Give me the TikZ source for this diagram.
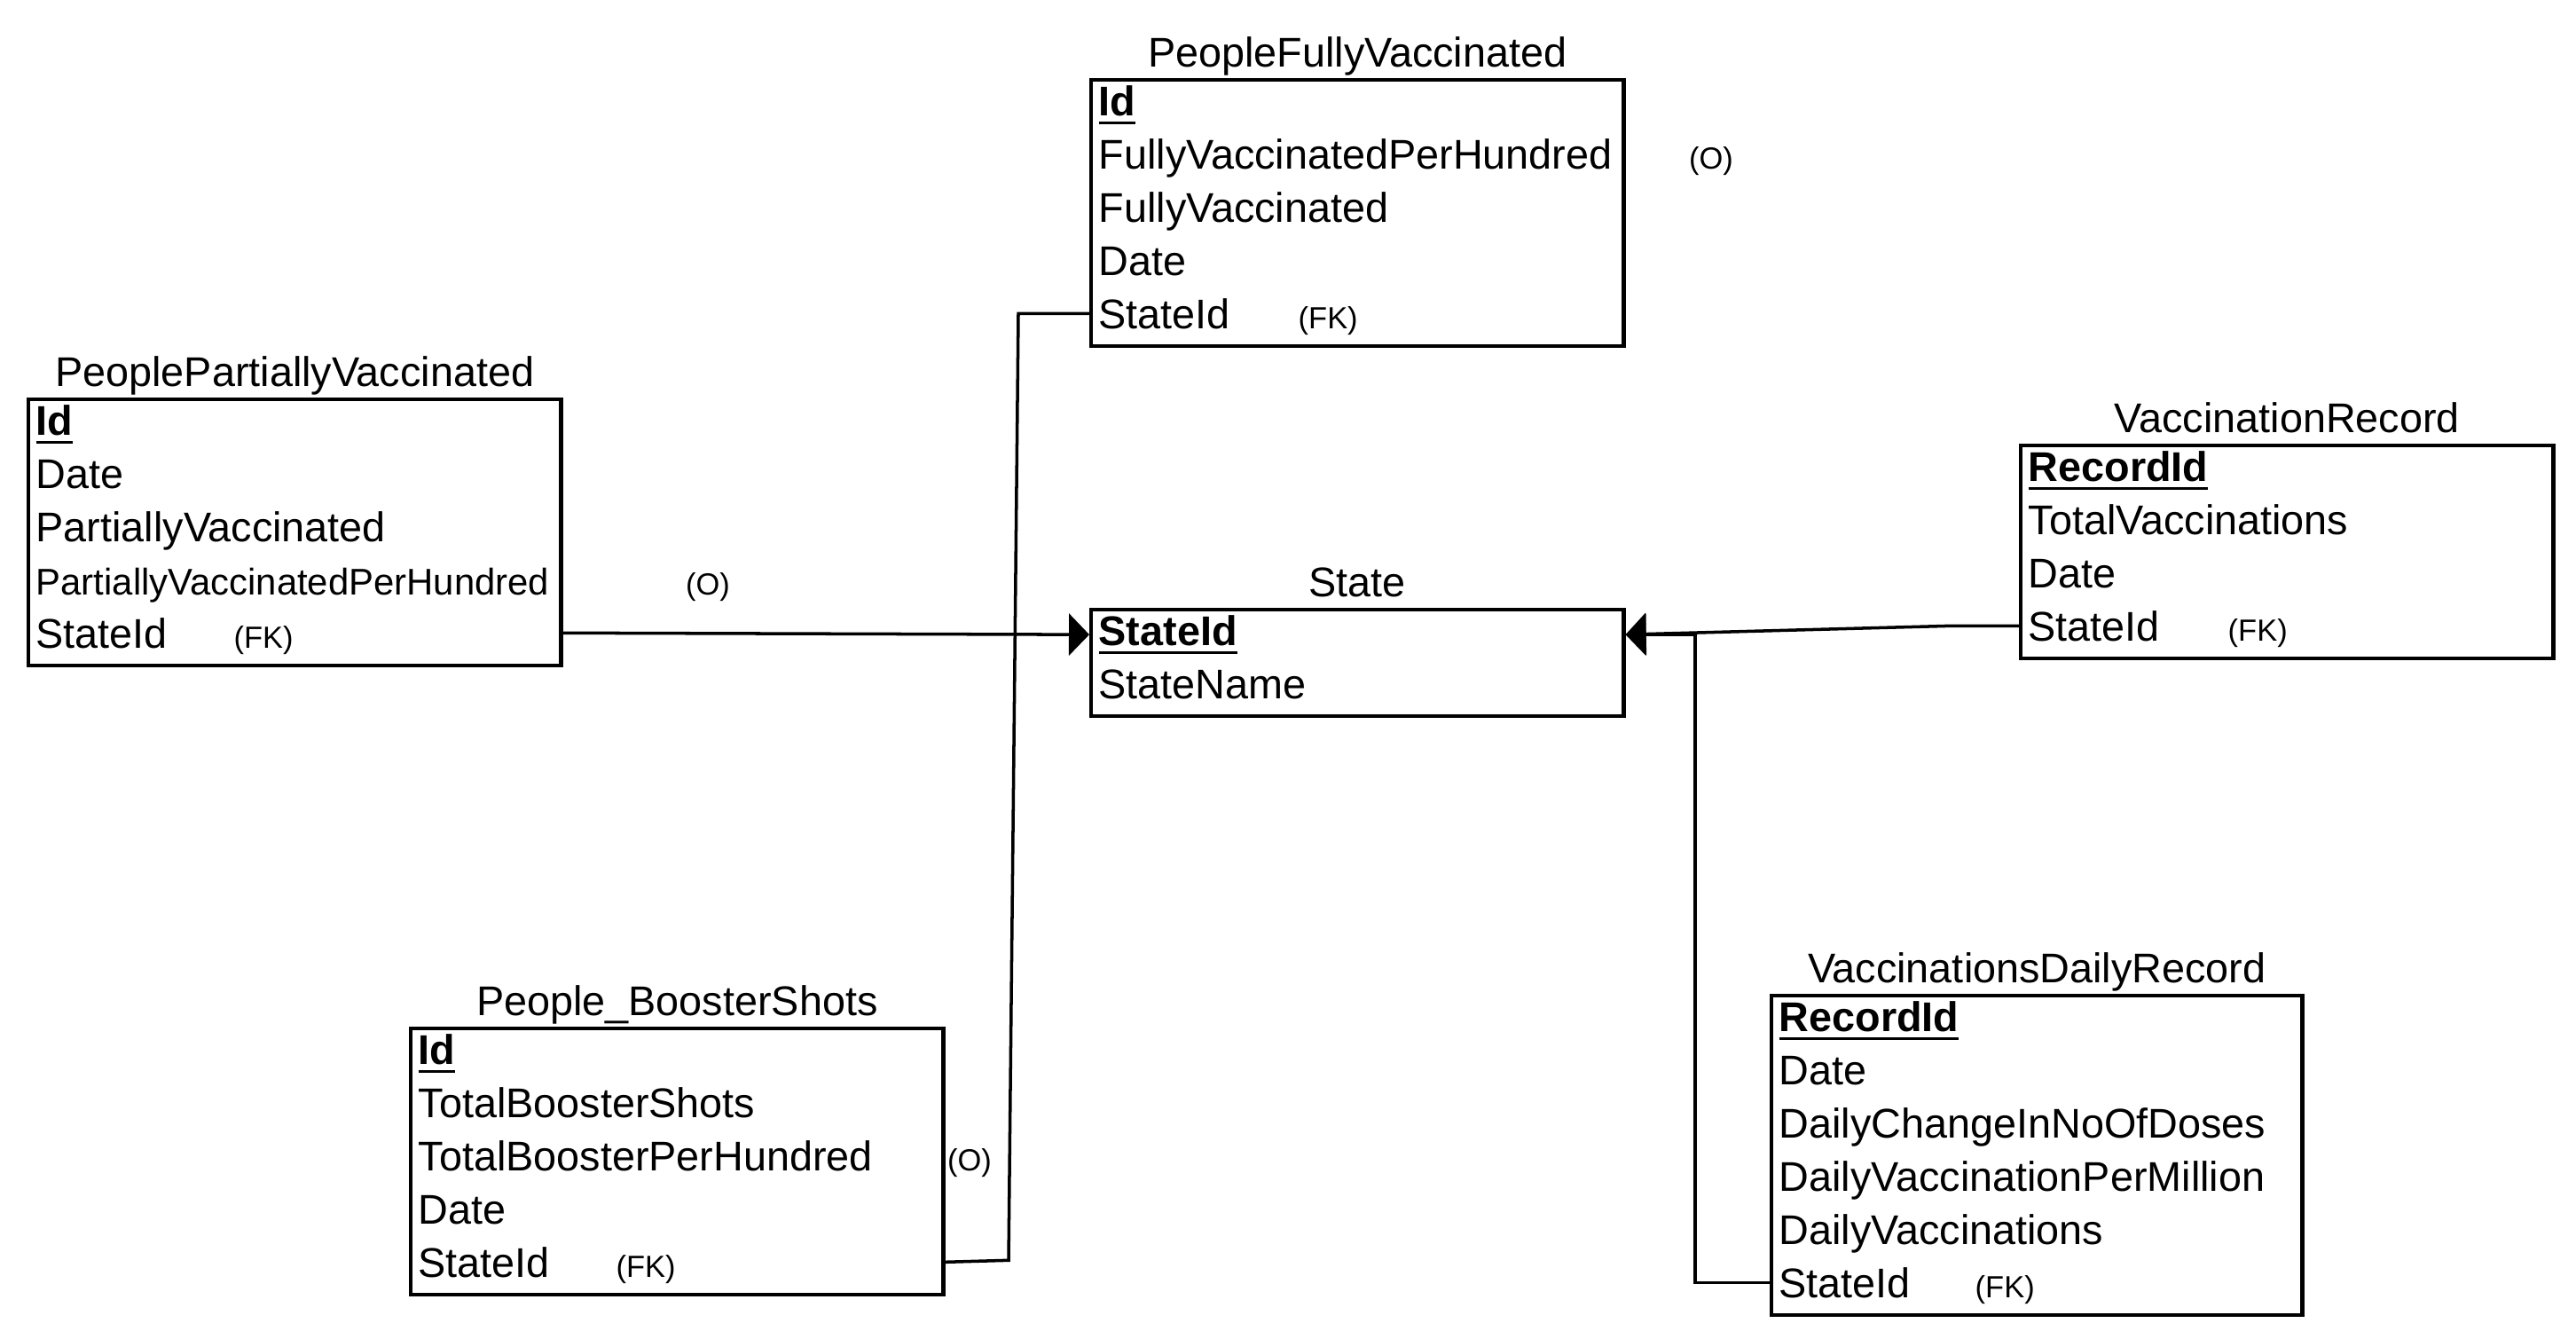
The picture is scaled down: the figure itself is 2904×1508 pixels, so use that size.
\documentclass[tikz,border=0pt]{standalone}
\usepackage{fontspec}
\setmainfont{Liberation Sans}
\usetikzlibrary{arrows.meta,positioning}

\newsavebox\keybox
\newcommand{\pkey}[1]{\sbox\keybox{\textbf{#1}}\rlap{\usebox\keybox}\rule[-2.9pt]{\wd\keybox}{0.9pt}}

\tikzset{
  table/.style={draw, line width=1.2pt, anchor=north west, minimum width=6cm, inner sep=0},
  title/.style={font=\fontsize{13.3}{15}\selectfont, inner sep=0, text depth=2.8pt},
  row/.style={anchor=base west, inner sep=0, font=\fontsize{13.3}{15}\selectfont},
  tag/.style={inner sep=0, font=\fontsize{9.8}{11}\selectfont},
  link/.style={line width=1pt},
  fk/.style={link, -{Triangle[length=2.3mm, width=4.7mm]}}
}

\begin{document}
\begin{tikzpicture}[x=0.01cm, y=-0.01cm]
\useasboundingbox (0,0) rectangle (2904,1508);

% State table in the middle
\node[table, minimum height=1.2cm] (state) at (1228,685) {};
\node[title, above=0.5pt of state] (stateT) {State};
\node[row] (state1) at (1238,727) {\pkey{StateId}};
\node[row] (state2) at (1238,787) {StateName};

% Fully vaccinated
\node[table, minimum height=3cm] (full) at (1228,88) {};
\node[title, above=0.5pt of full] (fullT) {PeopleFullyVaccinated};
\node[row] (full1) at (1238,130) {\pkey{Id}};
\node[row] (full2) at (1238,190) {FullyVaccinatedPerHundred};
\node[row] (full3) at (1238,250) {FullyVaccinated};
\node[row] (full4) at (1238,310) {Date};
\node[row] (full5) at (1238,370) {StateId};
\node[tag, anchor=base] (fullO) at (1929,190) {(O)};
\node[tag, anchor=base west] (fullFK) at (1463,370) {(FK)};

% Partially vaccinated
\node[table, minimum height=3cm] (part) at (30,448) {};
\node[title, above=0.5pt of part] (partT) {PeoplePartiallyVaccinated};
\node[row] (part1) at (40,490) {\pkey{Id}};
\node[row] (part2) at (40,550) {Date};
\node[row] (part3) at (40,610) {PartiallyVaccinated};
\node[row, font=\fontsize{11.9}{14}\selectfont] (part4) at (40,670) {PartiallyVaccinatedPerHundred};
\node[row] (part5) at (40,730) {StateId};
\node[tag, anchor=base] (partO) at (798,670) {(O)};
\node[tag, anchor=base west] (partFK) at (263,730) {(FK)};

% Vaccination record
\node[table, minimum height=2.4cm] (rec) at (2276,500) {};
\node[title, above=0.5pt of rec] (recT) {VaccinationRecord};
\node[row] (rec1) at (2286,542) {\pkey{RecordId}};
\node[row] (rec2) at (2286,602) {TotalVaccinations};
\node[row] (rec3) at (2286,662) {Date};
\node[row] (rec4) at (2286,722) {StateId};
\node[tag, anchor=base west] (recFK) at (2511,722) {(FK)};

% Booster shots
\node[table, minimum height=3cm] (boost) at (461,1157) {};
\node[title, above=0.5pt of boost] (boostT) {People\_BoosterShots};
\node[row] (boost1) at (471,1199) {\pkey{Id}};
\node[row] (boost2) at (471,1259) {TotalBoosterShots};
\node[row] (boost3) at (471,1319) {TotalBoosterPerHundred};
\node[row] (boost4) at (471,1379) {Date};
\node[row] (boost5) at (471,1439) {StateId};
\node[tag, anchor=base] (boostO) at (1093,1319) {(O)};
\node[tag, anchor=base west] (boostFK) at (694,1439) {(FK)};

% Daily record
\node[table, minimum width=5.98cm, minimum height=3.6cm] (daily) at (1995,1120) {};
\node[title, above=0.5pt of daily] (dailyT) {VaccinationsDailyRecord};
\node[row] (daily1) at (2005,1162) {\pkey{RecordId}};
\node[row] (daily2) at (2005,1222) {Date};
\node[row] (daily3) at (2005,1282) {DailyChangeInNoOfDoses};
\node[row] (daily4) at (2005,1342) {DailyVaccinationPerMillion};
\node[row] (daily5) at (2005,1402) {DailyVaccinations};
\node[row] (daily6) at (2005,1462) {StateId};
\node[tag, anchor=base west] (dailyFK) at (2226,1462) {(FK)};

% Links to State
\draw[fk] (part.east |- part5) -- (state.west |- state1);
\draw[link] (full.west |- full5) -- ++(-80,0) -- ++(-11,1067) -- (boost.east |- boost5);
\draw[fk] (rec.west |- rec4) -- ++(-76,0) -- (state.east |- state1);
\draw[fk] (daily.west |- daily6) -- ++(-84,0) |- (state.east |- state1);

\end{tikzpicture}
\end{document}
